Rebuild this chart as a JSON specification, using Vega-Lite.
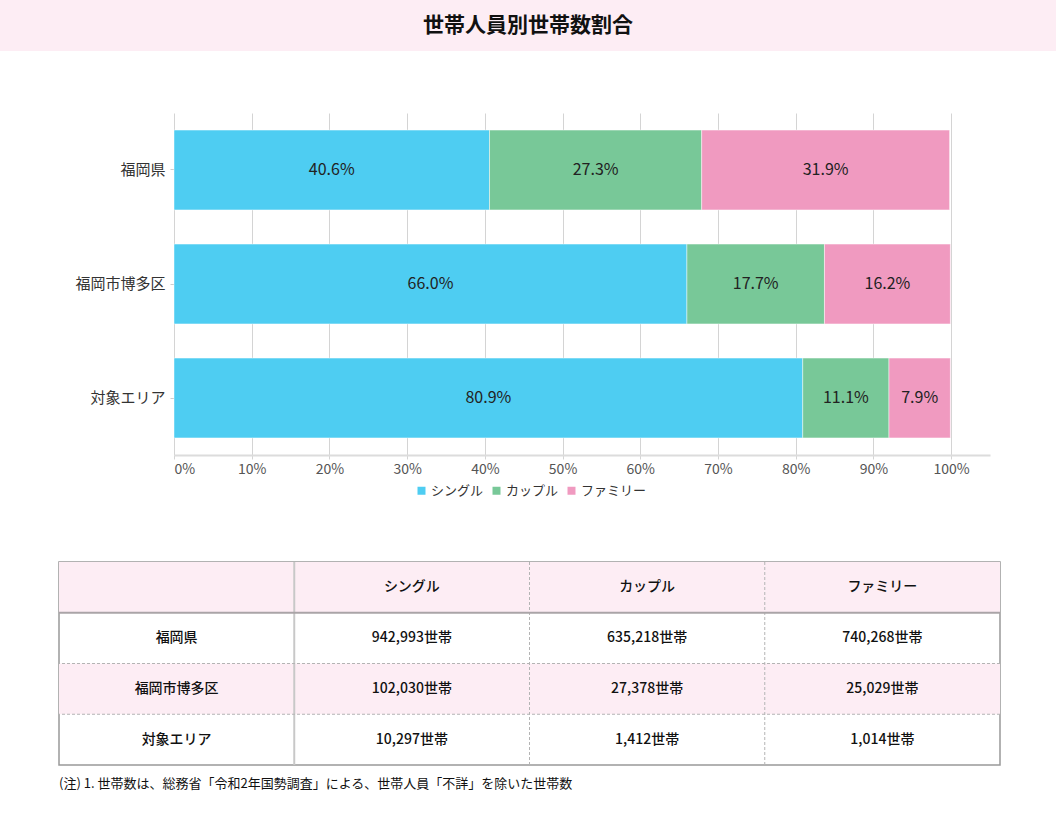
{
  "$schema": "https://vega.github.io/schema/vega-lite/v6.json",
  "padding": 0,
  "background": "#ffffff",
  "spacing": 62,
  "resolve": {"legend": {"color": "independent"}},
  "config": {"font": "Noto Sans CJK JP", "view": {"stroke": null}},
  "datasets": {
    "title": [{"t": "世帯人員別世帯数割合"}],
    "none": [],
    "shares": [
      {"area": "福岡県", "type": "シングル", "idx": 1, "pct": 40.6},
      {"area": "福岡県", "type": "カップル", "idx": 2, "pct": 27.3},
      {"area": "福岡県", "type": "ファミリー", "idx": 3, "pct": 31.9},
      {"area": "福岡市博多区", "type": "シングル", "idx": 1, "pct": 66.0},
      {"area": "福岡市博多区", "type": "カップル", "idx": 2, "pct": 17.7},
      {"area": "福岡市博多区", "type": "ファミリー", "idx": 3, "pct": 16.2},
      {"area": "対象エリア", "type": "シングル", "idx": 1, "pct": 80.9},
      {"area": "対象エリア", "type": "カップル", "idx": 2, "pct": 11.1},
      {"area": "対象エリア", "type": "ファミリー", "idx": 3, "pct": 7.9}
    ],
    "cells": [
      {"row": "h", "col": "c0", "text": ""},
      {"row": "h", "col": "c1", "text": "シングル"},
      {"row": "h", "col": "c2", "text": "カップル"},
      {"row": "h", "col": "c3", "text": "ファミリー"},
      {"row": "r1", "col": "c0", "text": "福岡県"},
      {"row": "r1", "col": "c1", "text": "942,993世帯"},
      {"row": "r1", "col": "c2", "text": "635,218世帯"},
      {"row": "r1", "col": "c3", "text": "740,268世帯"},
      {"row": "r2", "col": "c0", "text": "福岡市博多区"},
      {"row": "r2", "col": "c1", "text": "102,030世帯"},
      {"row": "r2", "col": "c2", "text": "27,378世帯"},
      {"row": "r2", "col": "c3", "text": "25,029世帯"},
      {"row": "r3", "col": "c0", "text": "対象エリア"},
      {"row": "r3", "col": "c1", "text": "10,297世帯"},
      {"row": "r3", "col": "c2", "text": "1,412世帯"},
      {"row": "r3", "col": "c3", "text": "1,014世帯"}
    ],
    "vsolid": [{"col": "c1"}],
    "vdash": [{"col": "c2"}, {"col": "c3"}],
    "hsolid": [{"row": "r1"}],
    "hdash": [{"row": "r2"}, {"row": "r3"}]
  },
  "vconcat": [
    {
      "width": 1056,
      "height": 51,
      "view": {"fill": "#fdedf4", "stroke": null},
      "data": {"name": "title"},
      "mark": {"type": "text", "fontSize": 21, "fontWeight": "bold", "color": "#111111", "baseline": "middle", "align": "center"},
      "encoding": {"text": {"field": "t", "type": "nominal"}}
    },
    {
      "spacing": 0,
      "resolve": {"legend": {"color": "independent"}},
      "hconcat": [
        {
          "width": 1,
          "height": 1,
          "data": {"name": "none"},
          "mark": {"type": "text"},
          "encoding": {}
        },
        {
          "width": 816,
          "height": 342,
          "data": {"name": "shares"},
          "encoding": {
            "y": {
              "field": "area",
              "type": "nominal",
              "sort": ["福岡県", "福岡市博多区", "対象エリア"],
              "scale": {"paddingInner": 0.3, "paddingOuter": 0.15},
              "axis": {
                "title": null,
                "labelFontSize": 15,
                "labelColor": "#333333",
                "tickSize": 4,
                "tickColor": "#cccccc",
                "domain": false,
                "labelPadding": 5,
                "minExtent": 173,
                "maxExtent": 173
              }
            }
          },
          "layer": [
            {
              "mark": {"type": "bar", "stroke": "#ffffff", "strokeOpacity": 0.45, "strokeWidth": 1},
              "encoding": {
                "x": {
                  "field": "pct",
                  "type": "quantitative",
                  "stack": "zero",
                  "scale": {"domain": [0, 105], "nice": false},
                  "axis": {
                    "title": null,
                    "values": [0, 10, 20, 30, 40, 50, 60, 70, 80, 90, 100],
                    "labelExpr": "datum.value + '%'",
                    "grid": true,
                    "gridColor": "#d4d4d4",
                    "domainColor": "#dcdcdc",
                    "domainWidth": 2,
                    "tickColor": "#d4d4d4",
                    "tickSize": 4,
                    "labelFontSize": 14,
                    "labelColor": "#555555",
                    "labelPadding": 3
                  }
                },
                "color": {
                  "field": "type",
                  "type": "nominal",
                  "scale": {"domain": ["シングル", "カップル", "ファミリー"], "range": ["#4ecdf2", "#78c898", "#f09ac0"]},
                  "legend": {
                    "orient": "none",
                    "legendX": 241,
                    "legendY": 371,
                    "direction": "horizontal",
                    "title": null,
                    "symbolType": "square",
                    "symbolSize": 64,
                    "symbolStrokeWidth": 0,
                    "labelFontSize": 13,
                    "labelColor": "#333333",
                    "columnPadding": 6,
                    "labelOffset": 3
                  }
                },
                "order": {"field": "idx", "type": "quantitative"}
              }
            },
            {
              "transform": [{"calculate": "format(datum.pct, '.1f') + '%'", "as": "label"}],
              "mark": {"type": "text", "fontSize": 16, "color": "#222222", "baseline": "middle"},
              "encoding": {
                "x": {"field": "pct", "type": "quantitative", "stack": "zero", "bandPosition": 0.5},
                "detail": {"field": "type", "type": "nominal"},
                "order": {"field": "idx", "type": "quantitative"},
                "text": {"field": "label", "type": "nominal"}
              }
            }
          ]
        }
      ]
    },
    {
      "spacing": 0,
      "hconcat": [
        {
          "width": 57,
          "height": 1,
          "data": {"name": "none"},
          "mark": {"type": "text"},
          "encoding": {}
        },
        {
          "width": 941,
          "height": 203,
          "view": {"stroke": "#999999", "strokeWidth": 1.5},
          "title": {
            "text": "(注) 1. 世帯数は、総務省「令和2年国勢調査」による、世帯人員「不詳」を除いた世帯数",
            "orient": "bottom",
            "anchor": "start",
            "frame": "group",
            "fontSize": 13,
            "fontWeight": "normal",
            "color": "#111111",
            "offset": 12
          },
          "layer": [
            {
              "data": {"name": "cells"},
              "transform": [{"filter": {"field": "row", "oneOf": ["h", "r2"]}}],
              "mark": {"type": "rect", "fill": "#fdedf4", "strokeWidth": 0},
              "encoding": {
                "x": {"field": "col", "type": "nominal", "scale": {"domain": ["c0", "c1", "c2", "c3"], "paddingInner": 0, "paddingOuter": 0}, "axis": null},
                "y": {"field": "row", "type": "nominal", "scale": {"domain": ["h", "r1", "r2", "r3"], "paddingInner": 0, "paddingOuter": 0}, "axis": null}
              }
            },
            {
              "data": {"name": "vsolid"},
              "mark": {"type": "rule", "color": "#c8c8c8", "strokeWidth": 2},
              "encoding": {"x": {"field": "col", "type": "nominal", "bandPosition": 0}}
            },
            {
              "data": {"name": "vdash"},
              "mark": {"type": "rule", "color": "#b4b4b4", "strokeWidth": 1, "strokeDash": [3, 2]},
              "encoding": {"x": {"field": "col", "type": "nominal", "bandPosition": 0}}
            },
            {
              "data": {"name": "hsolid"},
              "mark": {"type": "rule", "color": "#aaa4a7", "strokeWidth": 2},
              "encoding": {"y": {"field": "row", "type": "nominal", "bandPosition": 0}}
            },
            {
              "data": {"name": "hdash"},
              "mark": {"type": "rule", "color": "#b4b4b4", "strokeWidth": 1, "strokeDash": [3, 2]},
              "encoding": {"y": {"field": "row", "type": "nominal", "bandPosition": 0}}
            },
            {
              "data": {"name": "cells"},
              "mark": {"type": "text", "fontSize": 14, "fontWeight": 500, "color": "#111111", "baseline": "middle"},
              "encoding": {
                "x": {"field": "col", "type": "nominal"},
                "y": {"field": "row", "type": "nominal"},
                "text": {"field": "text", "type": "nominal"}
              }
            }
          ]
        }
      ]
    }
  ]
}
